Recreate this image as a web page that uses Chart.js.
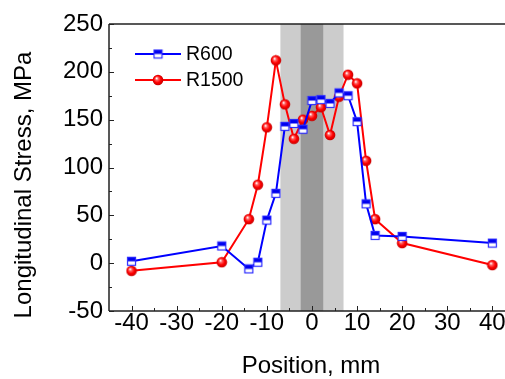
<!DOCTYPE html>
<html>
<head>
<meta charset="utf-8">
<script src="https://cdn.jsdelivr.net/npm/chart.js@4.4.1/dist/chart.umd.min.js"></script>
<style>
  html, body { margin: 0; padding: 0; background: #fff; }
  canvas { display: block; }
</style>
</head>
<body>
<canvas id="stressChart" width="505" height="379"></canvas>
<script>
// data
const positions = [-40, -20, -14, -12, -10, -8, -6, -4, -2, 0, 2, 4, 6, 8, 10, 12, 14, 20, 40];
const r600 = [2, 18, -6, 1, 45, 73, 143, 146, 140, 170, 171, 167, 178, 175, 148, 62, 29, 28, 21];
const r1500 = [-8, 1, 46, 82, 142, 212, 166, 130, 150, 154, 163, 134, 174, 197, 188, 107, 46, 21, -2];
const seriesNames = ['R600', 'R1500'];
const xTicks = [-40, -30, -20, -10, 0, 10, 20, 30, 40];
const yTicks = [-50, 0, 50, 100, 150, 200, 250];
const outerBand = [-7, 7];
const innerBand = [-2.5, 2.5];

const FONT = "'Liberation Sans', Arial, sans-serif";

function squareMarker() {
    const c = document.createElement('canvas');
    c.width = 11; c.height = 11;
    const g = c.getContext('2d');
    g.fillStyle = '#ffffff';
    g.fillRect(1, 1, 9, 9);
    g.fillStyle = '#0000ee';
    g.fillRect(1, 1, 9, 4.5);
    g.strokeStyle = '#2a2aff';
    g.lineWidth = 1.2;
    g.strokeRect(1.5, 1.5, 8, 8);
    return c;
}

function ballMarker() {
    const c = document.createElement('canvas');
    c.width = 12; c.height = 12;
    const g = c.getContext('2d');
    const grad = g.createRadialGradient(4.5, 4.2, 0.3, 6, 6, 5.5);
    grad.addColorStop(0, '#ffffff');
    grad.addColorStop(0.25, '#ff6060');
    grad.addColorStop(0.6, '#ff0000');
    grad.addColorStop(1, '#c00000');
    g.fillStyle = grad;
    g.beginPath();
    g.arc(6, 6, 5.3, 0, Math.PI * 2);
    g.fill();
    return c;
}

const squareImg = squareMarker();
const ballImg = ballMarker();

const toPoints = (ys) => positions.map((x, i) => ({ x: x, y: ys[i] }));

const bandsPlugin = {
    id: 'bands',
    beforeDatasetsDraw(chart) {
        const { ctx, chartArea, scales: { x } } = chart;
        ctx.save();
        ctx.fillStyle = '#cccccc';
        ctx.fillRect(x.getPixelForValue(outerBand[0]), chartArea.top,
            x.getPixelForValue(outerBand[1]) - x.getPixelForValue(outerBand[0]), chartArea.bottom - chartArea.top);
        ctx.fillStyle = '#999999';
        ctx.fillRect(x.getPixelForValue(innerBand[0]), chartArea.top,
            x.getPixelForValue(innerBand[1]) - x.getPixelForValue(innerBand[0]), chartArea.bottom - chartArea.top);
        ctx.restore();
    }
};

const framePlugin = {
    id: 'frame',
    afterDraw(chart) {
        const { ctx, chartArea: a, scales: { x, y } } = chart;
        ctx.save();
        ctx.strokeStyle = '#222';
        ctx.lineWidth = 1.5;
        ctx.beginPath();
        ctx.moveTo(a.left, a.top); ctx.lineTo(a.right, a.top);
        ctx.moveTo(a.left, a.top); ctx.lineTo(a.left, a.bottom);
        ctx.moveTo(a.left, a.bottom); ctx.lineTo(a.right, a.bottom);
        ctx.stroke();

        ctx.lineWidth = 1;
        ctx.beginPath();
        for (let v = -50; v <= 250; v += 25) {
            const py = Math.round(y.getPixelForValue(v)) + 0.5;
            const len = v % 50 === 0 ? 5 : 3;
            ctx.moveTo(a.left, py); ctx.lineTo(a.left + len, py);
        }
        for (let v = -40; v <= 40; v += 5) {
            const px = Math.round(x.getPixelForValue(v)) + 0.5;
            const len = v % 10 === 0 ? 5 : 3;
            ctx.moveTo(px, a.bottom); ctx.lineTo(px, a.bottom - len);
        }
        ctx.stroke();

        // axis titles
        ctx.fillStyle = '#000';
        ctx.font = '24px ' + FONT;
        ctx.textAlign = 'center';
        ctx.textBaseline = 'middle';
        ctx.fillText('Position, mm', 311, 366);
        ctx.translate(24, 185);
        ctx.rotate(-Math.PI / 2);
        ctx.fillText('Longitudinal Stress, MPa', 0, 0);
        ctx.restore();

        // legend
        const items = [
            { name: seriesNames[0], color: '#0000ff', img: squareImg, y: 54 },
            { name: seriesNames[1], color: '#ff0000', img: ballImg, y: 80 }
        ];
        ctx.save();
        ctx.font = '19.5px ' + FONT;
        ctx.textBaseline = 'middle';
        ctx.textAlign = 'left';
        items.forEach(it => {
            ctx.strokeStyle = it.color;
            ctx.lineWidth = 2;
            ctx.beginPath();
            ctx.moveTo(135, it.y); ctx.lineTo(181, it.y);
            ctx.stroke();
            ctx.drawImage(it.img, 158 - it.img.width / 2, it.y - it.img.height / 2);
            ctx.fillStyle = '#000';
            ctx.fillText(it.name, 186, it.y + 1);
        });
        ctx.restore();
    }
};

new Chart(document.getElementById('stressChart'), {
    type: 'line',
    data: {
        datasets: [{
            label: seriesNames[0],
            data: toPoints(r600),
            borderColor: '#0000ff',
            borderWidth: 2,
            pointStyle: squareImg,
            tension: 0
        }, {
            label: seriesNames[1],
            data: toPoints(r1500),
            borderColor: '#ff0000',
            borderWidth: 2,
            pointStyle: ballImg,
            tension: 0
        }]
    },
    options: {
        responsive: false,
        animation: false,
        clip: false,
        layout: {
            autoPadding: false,
            padding: { left: 0, top: 24, right: 0, bottom: 0 }
        },
        plugins: {
            legend: { display: false },
            tooltip: { enabled: false }
        },
        scales: {
            x: {
                type: 'linear',
                min: -45,
                max: 42.8,
                grid: { display: false, drawTicks: false },
                border: { display: false },
                afterBuildTicks(axis) {
                    axis.ticks = xTicks.map(v => ({ value: v }));
                },
                afterFit(axis) {
                    axis.height = 68;
                    axis.paddingLeft = 0;
                    axis.paddingRight = 0;
                },
                ticks: {
                    color: '#000',
                    padding: 0,
                    maxRotation: 0,
                    autoSkip: false,
                    font: { family: FONT, size: 24, lineHeight: 1 }
                }
            },
            y: {
                min: -50,
                max: 250,
                grid: { display: false, drawTicks: false },
                border: { display: false },
                afterBuildTicks(axis) {
                    axis.ticks = yTicks.map(v => ({ value: v }));
                },
                afterFit(axis) {
                    axis.width = 109;
                },
                ticks: {
                    color: '#000',
                    padding: 6,
                    font: { family: FONT, size: 24, lineHeight: 1 }
                }
            }
        }
    },
    plugins: [bandsPlugin, framePlugin]
});
</script>
</body>
</html>
